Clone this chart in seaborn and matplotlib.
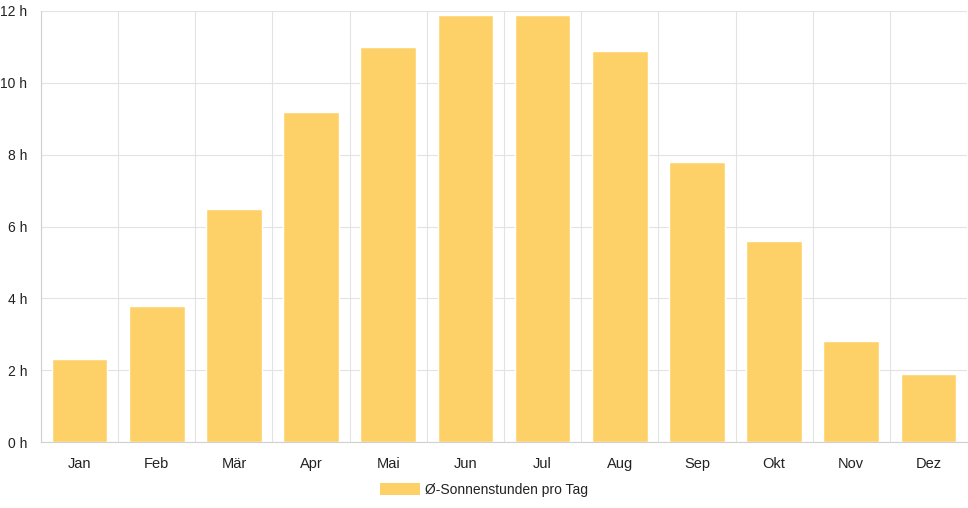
import matplotlib
matplotlib.use("Agg")
import matplotlib.pyplot as plt
import seaborn as sns
import pandas as pd
from matplotlib.patches import Patch
from matplotlib.ticker import FixedLocator

months = ["Jan", "Feb", "Mär", "Apr", "Mai", "Jun", "Jul", "Aug", "Sep", "Okt", "Nov", "Dez"]
sun_hours = [2.3, 3.8, 6.5, 9.2, 11.0, 11.9, 11.9, 10.9, 7.8, 5.6, 2.8, 1.9]
y_ticks = [0, 2, 4, 6, 8, 10, 12]
series_label = "Ø-Sonnenstunden pro Tag"

bar_color = "#FED168"
grid_color = "#e3e3e3"

sns.set_style("white")
plt.rcParams["font.family"] = ["Liberation Sans", "DejaVu Sans"]

df = pd.DataFrame({"month": months, "hours": sun_hours})

fig = plt.figure(figsize=(9.68, 5.08), dpi=100)
ax = fig.add_axes([41 / 968, 66 / 508, 926 / 968, 431 / 508])

sns.barplot(data=df, x="month", y="hours", color=bar_color, saturation=1,
            width=0.72, ax=ax, zorder=2)

ax.set_xlim(-0.5, len(months) - 0.5)
ax.set_ylim(0, 12)
ax.set_yticks(y_ticks)
ax.set_yticklabels([f"{t} h" for t in y_ticks])
ax.set_xlabel("")
ax.set_ylabel("")

# gridlines between categories, like chart.js offset grid
ax.xaxis.set_minor_locator(FixedLocator([i - 0.5 for i in range(len(months) + 1)]))
ax.grid(which="minor", axis="x", color=grid_color, linewidth=0.8, zorder=0)
ax.grid(which="major", axis="y", color=grid_color, linewidth=0.8, zorder=0)
ax.set_axisbelow(True)

ax.tick_params(axis="x", which="major", length=0, pad=11, labelsize=10.5, colors="#222222")
ax.tick_params(axis="x", which="minor", length=10, width=0.8, color=grid_color)
ax.tick_params(axis="y", length=6, width=0.8, color=grid_color, pad=4,
               labelsize=10, labelcolor="#222222")

for side in ["top", "right"]:
    ax.spines[side].set_visible(False)
for side in ["left", "bottom"]:
    ax.spines[side].set_color("#d0d0d0")
    ax.spines[side].set_linewidth(0.8)

handle = Patch(facecolor=bar_color, edgecolor="none")
fig.legend([handle], [series_label], loc="center", bbox_to_anchor=(0.5, 18 / 508),
           frameon=False, fontsize=10, handlelength=2.9, handleheight=1.0,
           handletextpad=0.4, labelcolor="#222222")

fig.savefig("out.png", dpi=100)
